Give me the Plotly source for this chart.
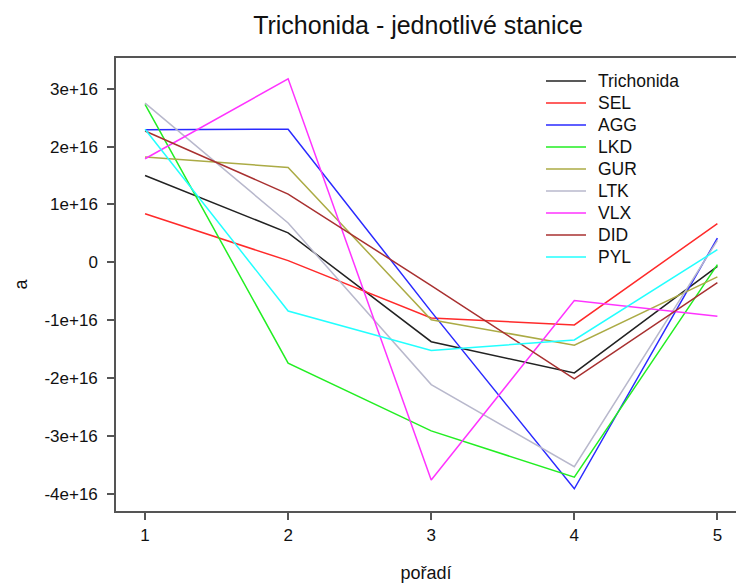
import plotly.graph_objects as go

# station values per rank (units: 1e16)
poradi = [1, 2, 3, 4, 5]
stanice = ["Trichonida", "SEL", "AGG", "LKD", "GUR", "LTK", "VLX", "DID", "PYL"]
trichonida = [1.50, 0.51, -1.37, -1.91, -0.07]
sel = [0.84, 0.03, -0.96, -1.08, 0.67]
agg = [2.29, 2.30, -0.85, -3.91, 0.42]
lkd = [2.73, -1.74, -2.91, -3.71, -0.04]
gur = [1.82, 1.64, -0.99, -1.43, -0.25]
ltk = [2.75, 0.68, -2.11, -3.53, 0.38]
vlx = [1.79, 3.17, -3.76, -0.66, -0.93]
did = [2.27, 1.18, -0.40, -2.01, -0.35]
pyl = [2.30, -0.84, -1.52, -1.34, 0.22]

series = [trichonida, sel, agg, lkd, gur, ltk, vlx, did, pyl]
barvy = ["#222222", "#FF2A2A", "#2A2AFF", "#22EE22", "#ABAB45",
         "#B8B8CC", "#FF33FF", "#A83030", "#22FFFF"]

scale = 1e16
ytick_vals = [3, 2, 1, 0, -1, -2, -3, -4]
ytick_text = ["3e+16", "2e+16", "1e+16", "0", "-1e+16", "-2e+16", "-3e+16", "-4e+16"]

font = "Liberation Sans, Arial, sans-serif"
axis_col = "#555555"

W, H = 736, 583
ML, MR, MT, MB = 116, 0, 58, 72
plot_w = W - ML - MR
plot_h = H - MT - MB

fig = go.Figure()
for name, vals, col in zip(stanice, series, barvy):
    fig.add_trace(go.Scatter(
        x=poradi, y=[v * scale for v in vals], mode="lines", name=name,
        line=dict(color=col, width=1.5), showlegend=False,
    ))

# key in the upper right: short coloured line + station name per row
shapes, annotations = [], []
key_x0, key_x1, key_text = 546, 586, 596
key_top, key_step = 81, 22
for i, (name, col) in enumerate(zip(stanice, barvy)):
    yy = (H - MB - (key_top + key_step * i)) / plot_h
    shapes.append(dict(type="line", xref="paper", yref="paper",
                       x0=(key_x0 - ML) / plot_w, x1=(key_x1 - ML) / plot_w,
                       y0=yy, y1=yy, line=dict(color=col, width=1.5)))
    annotations.append(dict(text=name, xref="paper", yref="paper",
                            x=(key_text - ML) / plot_w, y=yy,
                            xanchor="left", yanchor="middle", showarrow=False,
                            font=dict(size=17.5, color="#111111")))

fig.update_layout(
    width=W, height=H,
    margin=dict(l=ML, r=MR, t=MT, b=MB),
    paper_bgcolor="white", plot_bgcolor="white",
    font=dict(family=font, size=17, color="#111111"),
    title=dict(text="Trichonida - jednotlivé stanice", x=0.568, xanchor="center",
               y=0.957, yanchor="middle", font=dict(size=25, color="#111111")),
    shapes=shapes, annotations=annotations,
)

fig.update_xaxes(
    range=[0.797, 5.13], tickvals=poradi, ticktext=[str(p) for p in poradi],
    showgrid=False, zeroline=False,
    showline=True, linecolor=axis_col, linewidth=1.5, mirror=True,
    ticks="outside", ticklen=7, tickwidth=1.5, tickcolor=axis_col,
    ticklabelstandoff=1,
    title=dict(text="pořadí", font=dict(size=18), standoff=24),
)
fig.update_yaxes(
    range=[-4.294 * scale, 3.53 * scale],
    tickvals=[v * scale for v in ytick_vals], ticktext=ytick_text,
    showgrid=False, zeroline=False,
    showline=True, linecolor=axis_col, linewidth=1.5, mirror=False,
    ticks="outside", ticklen=7, tickwidth=1.5, tickcolor=axis_col,
    ticklabelstandoff=6,
    title=dict(text="a", font=dict(size=18), standoff=12),
)

fig.write_html("out.html")
